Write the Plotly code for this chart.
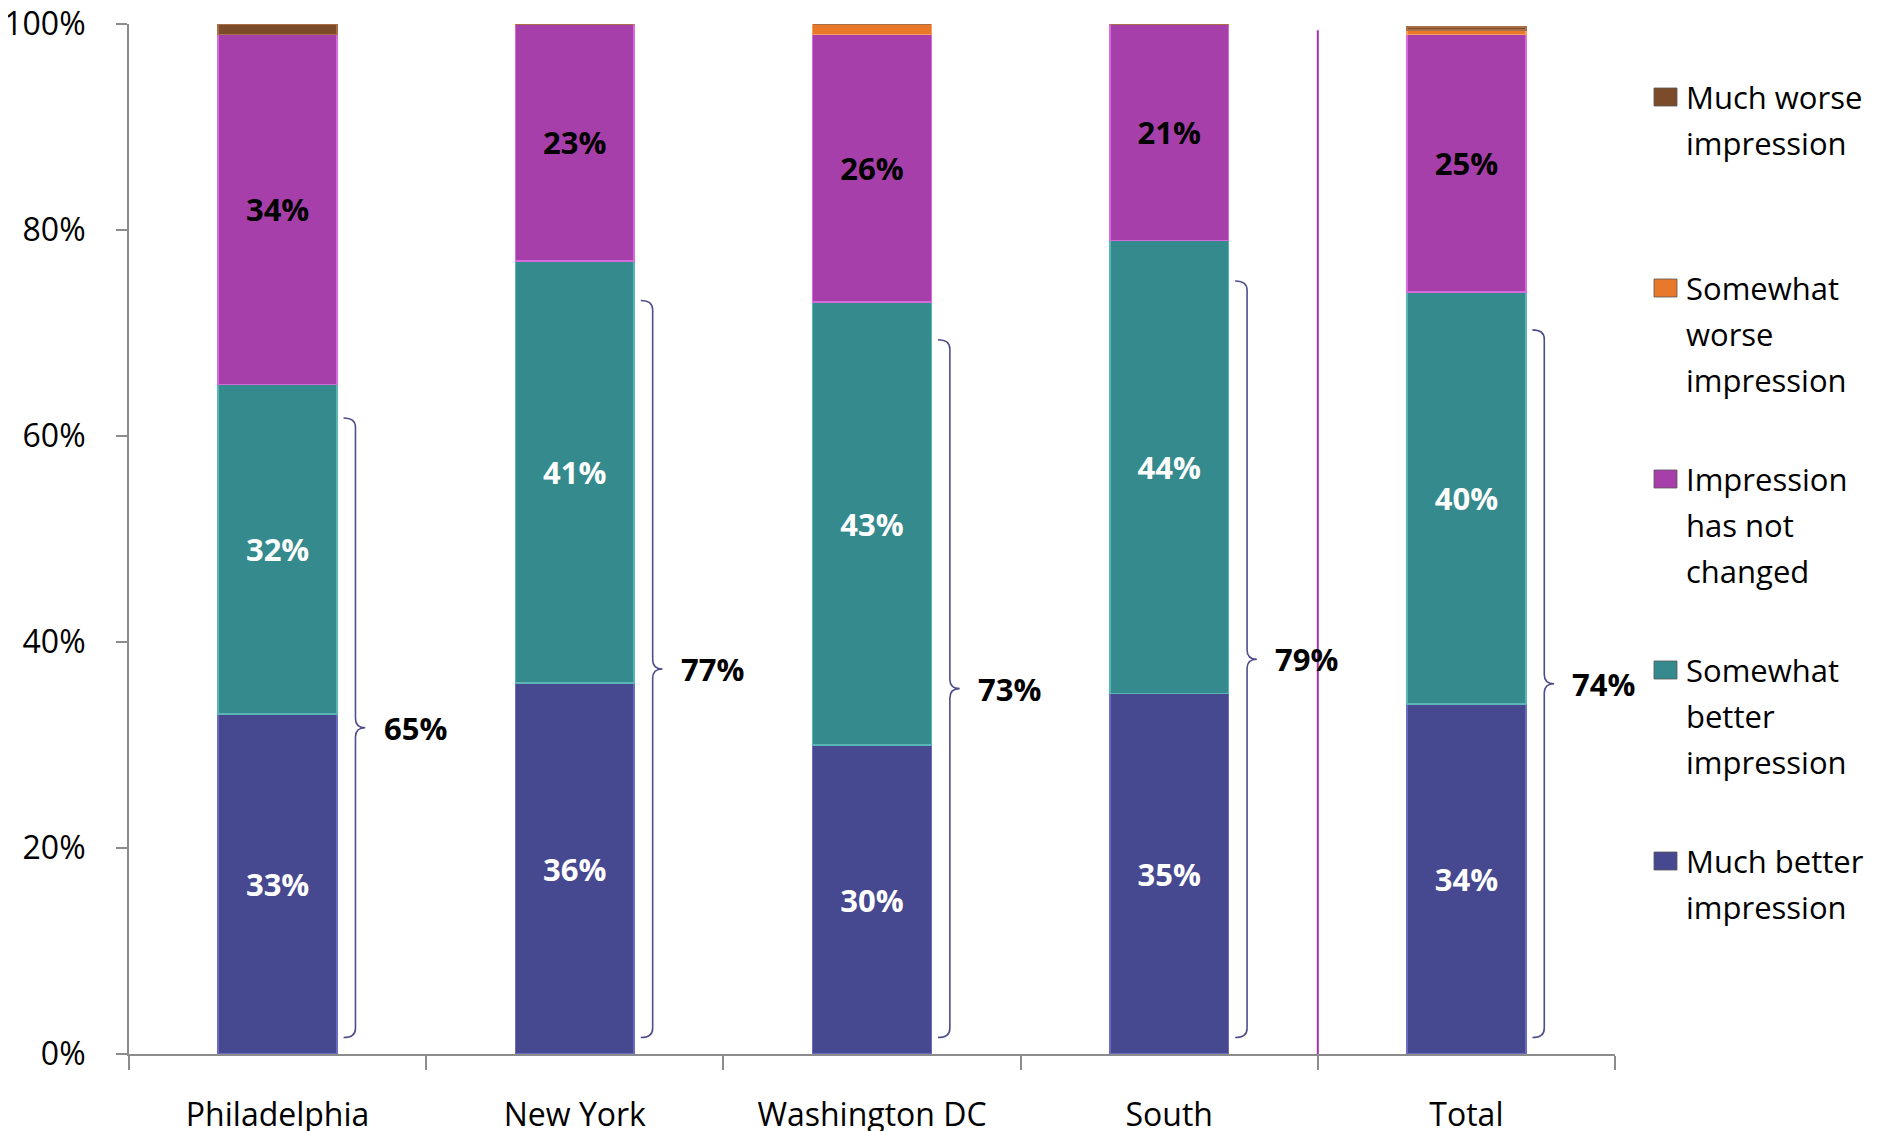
import plotly.graph_objects as go

# survey data, percent of respondents
cities = ['Philadelphia', 'New York', 'Washington DC', 'South', 'Total']
much_better = [33, 36, 30, 35, 34]
somewhat_better = [32, 41, 43, 44, 40]
not_changed = [34, 23, 26, 21, 25]
somewhat_worse = [0, 0, 1, 0, 0.4]
much_worse = [1, 0, 0, 0, 0.3]
better_totals = [65, 77, 73, 79, 74]

series_names = ['Much better impression', 'Somewhat better impression', 'Impression has not changed',
                'Somewhat worse impression', 'Much worse impression']
legend_lines = [['Much better', 'impression'], ['Somewhat', 'better', 'impression'],
                ['Impression', 'has not', 'changed'], ['Somewhat', 'worse', 'impression'],
                ['Much worse', 'impression']]
colors = ['#464890', '#348a8c', '#a63fa9', '#e8782a', '#7b4b2a']
edge_colors = ['#6a6cc0', '#5cb5b5', '#d76bdb', '#f7a060', '#a87048']
text_colors = ['white', 'white', 'black', 'black', 'black']

FONT = 'Open Sans'
W, H = 1895, 1131
OFF = 8  # page body margin
ML, MR, MT, MB = 129 - OFF, 280 + OFF, 24 - OFF, 77 + OFF

xs = list(range(len(cities)))
series = [much_better, somewhat_better, not_changed, somewhat_worse, much_worse]

fig = go.Figure()
for k, vals in enumerate(series):
    # only the three big segments carry a label
    labels = ['{}%'.format(round(v)) if k < 3 and v >= 5 else '' for v in vals]
    fig.add_trace(go.Bar(
        x=xs, y=vals, width=0.4, name=series_names[k],
        marker=dict(color=colors[k], line=dict(color=edge_colors[k], width=1.5)),
        text=labels, textposition='inside', insidetextanchor='middle', textangle=0,
        insidetextfont=dict(family=FONT, size=31, color=text_colors[k], weight='bold'),
        showlegend=False, hoverinfo='skip'))

# curly brackets around the "better" share
shapes = []
annotations = []
for i, tot in enumerate(better_totals):
    top = 0.95 * tot
    bot = 1.6
    mid = (top + bot) / 2
    c = 0.9
    x0, x1, x2 = i + 0.222, i + 0.262, i + 0.295
    path = ('M {x0},{top} Q {x1},{top} {x1},{a} L {x1},{b} Q {x1},{mid} {x2},{mid} '
            'Q {x1},{mid} {x1},{d} L {x1},{e} Q {x1},{bot} {x0},{bot}').format(
        x0=x0, x1=x1, x2=x2, top=top, bot=bot, mid=mid,
        a=top - c, b=mid + c, d=mid - c, e=bot + c)
    shapes.append(dict(type='path', path=path, xref='x', yref='y',
                       line=dict(color='#4d4d8c', width=1.6)))
    annotations.append(dict(x=i + 0.35, y=mid, xref='x', yref='y', text='{}%'.format(tot),
                            showarrow=False, xanchor='left', yanchor='middle',
                            font=dict(family=FONT, size=31, color='black', weight='bold')))

# divider between regions and total
shapes.append(dict(type='line', xref='x', yref='y', x0=3.5, x1=3.5, y0=0, y1=99.4,
                   line=dict(color='#a035b0', width=2)))

# hand-made legend, top item is "Much worse" (positions in page pixels)
plot_w = W - ML - MR
plot_h = H - MT - MB
legend_rows = [97, 288, 479, 670, 861]
line_gap = 46


def px_x(px):
    return (px - OFF - ML) / plot_w


def px_y(py):
    return 1 - (py - OFF - MT) / plot_h


for row, k in zip(legend_rows, [4, 3, 2, 1, 0]):
    shapes.append(dict(type='rect', xref='paper', yref='paper',
                       x0=px_x(1654), x1=px_x(1677), y0=px_y(row + 9), y1=px_y(row - 9),
                       fillcolor=colors[k], line=dict(color='#555555', width=0.8)))
    for j, line in enumerate(legend_lines[k]):
        annotations.append(dict(x=px_x(1684), y=px_y(row + j * line_gap),
                                xref='paper', yref='paper', text=line, showarrow=False,
                                xanchor='left', yanchor='middle', align='left',
                                font=dict(family=FONT, size=31, color='black')))

fig.update_layout(
    barmode='stack',
    width=W, height=H,
    margin=dict(l=ML, r=MR, t=MT, b=MB, autoexpand=False),
    plot_bgcolor='white', paper_bgcolor='white',
    font=dict(family=FONT, color='black'),
    shapes=shapes, annotations=annotations,
    uniformtext=dict(minsize=20, mode='show'),
)
fig.update_xaxes(
    range=[-0.5, 4.5], tickvals=xs, ticktext=cities, ticks='', showgrid=False, zeroline=False,
    showline=True, linecolor='#8c8c8c', linewidth=2, automargin=False, ticklabeloverflow='allow',
    tickfont=dict(family=FONT, size=32, color='black'), ticklabelstandoff=32,
    minor=dict(tickvals=[x - 0.5 for x in xs] + [4.5], ticks='outside', ticklen=14,
               tickcolor='#8c8c8c', tickwidth=1.5, showgrid=False),
)
fig.update_yaxes(
    range=[0, 100], tickvals=[0, 20, 40, 60, 80, 100], ticktext=['0%', '20%', '40%', '60%', '80%', '100%'],
    ticks='outside', ticklen=11, tickcolor='#8c8c8c', tickwidth=1.5, showgrid=False, zeroline=False,
    showline=True, linecolor='#8c8c8c', linewidth=2, automargin=False, ticklabeloverflow='allow',
    tickfont=dict(family=FONT, size=32, color='black'), ticklabelstandoff=24,
)

fig.write_html('out.html')
